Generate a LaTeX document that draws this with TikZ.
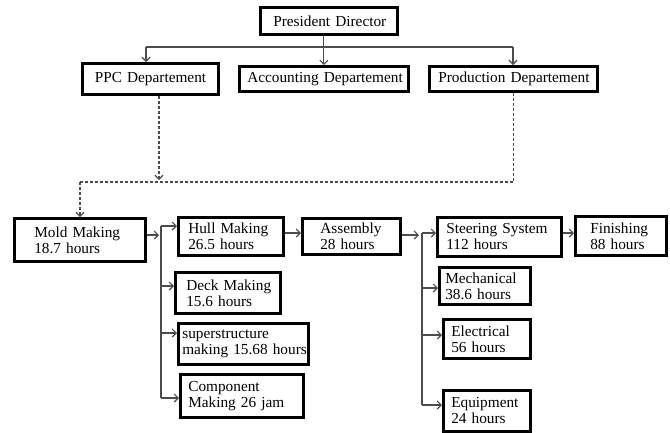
\documentclass[tikz,border=0pt]{standalone}
\usepackage{fontspec}
\setmainfont{Liberation Serif}
\usetikzlibrary{arrows.meta}

\begin{document}
\begin{tikzpicture}[x=1pt, y=-1pt,
    unit/.style={draw, line width=2.6pt, inner ysep=0pt, anchor=north west,
      align=left, font=\fontsize{15.3}{16}\selectfont,
      execute at begin node={\hyphenpenalty=10000}},
    link/.style={black!70, line width=1.1pt}]
  \useasboundingbox (0,0) rectangle (670,432);

  % organisation
  \begin{scope}[every node/.style={unit}]
    \node [align=center, text width=111pt, inner xsep=13pt, minimum height=27pt] (pres) at (259,6) {President~Director};
    \node [align=center, text width=112pt, inner xsep=12pt, minimum height=31pt, line width=3pt] (ppc) at (81,62) {PPC~Departement};
    \node [align=center, text width=153pt, inner xsep=8pt, minimum height=25pt] (acc) at (238,65) {Accounting~Departement};
    \node [align=center, text width=150pt, inner xsep=9pt, minimum height=25pt] (prod) at (428,65) {Production~Departement};
  \end{scope}

  % production steps
  \begin{scope}[every node/.style={unit}]
    \node [text width=91pt, inner xsep=20pt, minimum height=43pt] (mold) at (13,217) {Mold~Making\\18.7~hours};
    \node [text width=85pt, inner xsep=10pt, minimum height=38pt] (hull) at (177,216) {Hull~Making\\26.5~hours};
    \node [text width=83pt, inner xsep=11pt, minimum height=41pt] (deck) at (174,271) {Deck~Making\\15.6~hours};
    \node [text width=122pt, inner xsep=4pt, minimum height=41pt] (sup) at (177,322) {superstructure\\making~15.68~hours};
    \node [text width=107pt, inner xsep=8pt, minimum height=43pt] (comp) at (179,373) {Component\\Making~26~jam};
    \node [text width=62pt, inner xsep=18pt, minimum height=36pt] (asm) at (301,217) {Assembly\\28~hours};
    \node [text width=106pt, inner xsep=9pt, minimum height=39pt] (steer) at (436,216) {Steering~System\\112~hours};
    \node [text width=61pt, inner xsep=15pt, minimum height=39pt] (fin) at (574,215) {Finishing\\88~hours};
    \node [text width=79pt, inner xsep=6pt, minimum height=37pt] (mech) at (438,266) {Mechanical\\38.6~hours};
    \node [text width=71pt, inner xsep=8pt, minimum height=39pt] (elec) at (442,318) {Electrical\\56~hours};
    \node [text width=71pt, inner xsep=8pt, minimum height=41pt] (equip) at (442,389) {Equipment\\24~hours};
  \end{scope}

  \begin{scope}[link, -{Straight Barb[length=4pt,width=8pt]}]
    \coordinate (busL) at (146,47);
    \coordinate (busR) at (513,47);
    \draw [-] (busL) -- (busR);
    \draw (pres.south -| acc.north) -- (acc.north);
    \draw (busL) -- (busL |- ppc.north);
    \draw (busR) -- (busR |- prod.north);
  \end{scope}

  \begin{scope}[link, dash pattern=on 3pt off 2pt, -{Straight Barb[length=4pt,width=8pt]}]
    \coordinate (jn) at (80,182);
    \draw (ppc.south -| 159,0) -- (159,180);
    \draw [-] (prod.south) |- (jn);
    \draw (jn) -- (jn |- mold.north);
  \end{scope}

  \begin{scope}[link, -{Straight Barb[length=4pt,width=8pt]}]
    \draw (mold.east |- 0,235) -- (159,235);
    \draw [-] (161,226) -- (161,398);
    \foreach \n/\y in {hull/226, deck/286, sup/333, comp/398}
      \draw (161,\y) -- (\n.west |- 0,\y);
    \draw (hull.east |- 0,233) -- (asm.west |- 0,233);
    \draw (asm.east |- 0,235) -- (419,235);
    \draw [-] (422,233) -- (422,405);
    \foreach \n/\y in {steer/233, mech/288, elec/335, equip/405}
      \draw (422,\y) -- (\n.west |- 0,\y);
    \draw (steer.east |- 0,233) -- (fin.west |- 0,233);
  \end{scope}
\end{tikzpicture}
\end{document}
